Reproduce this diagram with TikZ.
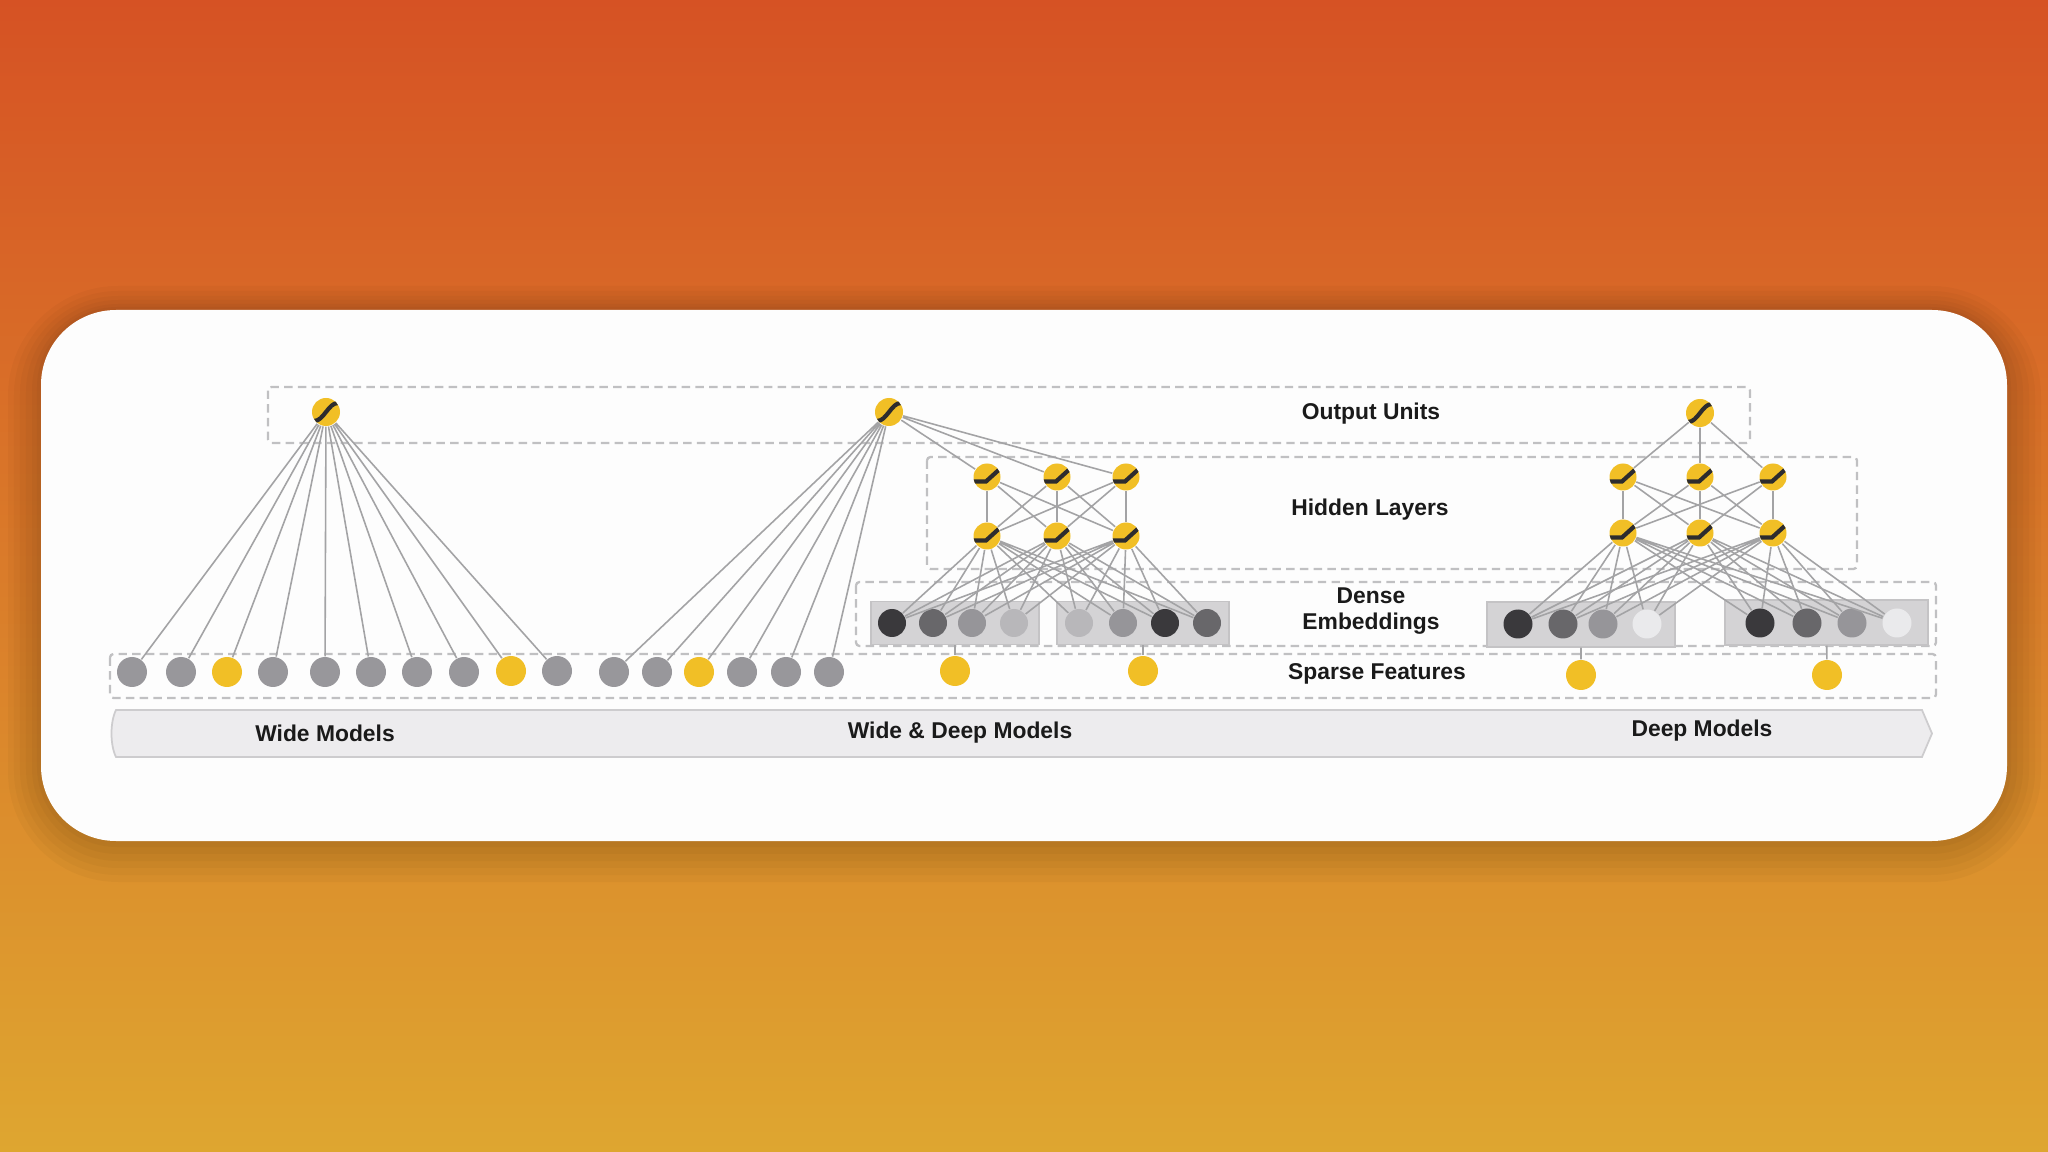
\documentclass[tikz,border=0pt]{standalone}
\usepackage{fontspec}
\setmainfont{Liberation Sans}
\usetikzlibrary{calc}
\definecolor{BgTop}{RGB}{214,82,36}
\definecolor{BgBottom}{RGB}{222,166,48}
\definecolor{CardWhite}{RGB}{253,253,253}
\definecolor{UnitYellow}{RGB}{241,191,38}
\definecolor{GlyphDark}{RGB}{45,44,46}
\definecolor{SparseGray}{RGB}{152,151,155}
\definecolor{EmbDark}{RGB}{58,57,60}
\definecolor{EmbDim}{RGB}{104,103,106}
\definecolor{EmbMid}{RGB}{150,149,153}
\definecolor{EmbLight}{RGB}{184,183,186}
\definecolor{EmbPale}{RGB}{234,234,236}
\definecolor{GroupFill}{RGB}{212,211,213}
\definecolor{GroupLine}{RGB}{196,195,197}
\definecolor{EdgeGray}{RGB}{163,163,165}
\definecolor{DashGray}{RGB}{192,192,194}
\definecolor{BannerFill}{RGB}{237,236,238}
\definecolor{BannerLine}{RGB}{205,204,206}
\definecolor{InkBlack}{RGB}{26,26,26}
\tikzset{
  unit/.style={circle,fill=UnitYellow,inner sep=0pt,minimum size=2.8mm},
  outu/.style={unit,path picture={\begin{scope}[shift={(path picture bounding box.center)}]
    \draw[GlyphDark,line width=1.2pt] (-0.12,-0.09) .. controls (-0.02,-0.09) and (0.02,0.09) .. (0.12,0.09);
    \end{scope}}},
  relu/.style={unit,minimum size=2.7mm,path picture={\begin{scope}[shift={(path picture bounding box.center)}]
    \draw[GlyphDark,line width=1.2pt] (-0.15,-0.045) -- (-0.01,-0.045) -- (0.15,0.10);
    \end{scope}}},
  link/.style={draw=EdgeGray,line width=0.45pt},
  frame/.style={draw=DashGray,line width=0.65pt,dash pattern=on 2.4pt off 1.5pt,rounded corners=1pt},
}
\tikzset{sparse/.style={circle,fill=SparseGray,inner sep=0pt,minimum size=3mm}, catg/.style={circle,fill=UnitYellow,inner sep=0pt,minimum size=3mm},emb/.style={circle,inner sep=0pt,minimum size=2.8mm},group/.style={rectangle,fill=GroupFill,draw=GroupLine,line width=0.4pt,inner sep=0pt,minimum height=4.3mm},layertext/.style={font=\bfseries\fontsize{6.5}{7.4}\selectfont,text=InkBlack,align=center,inner sep=0pt},haze/.style={black,opacity=0.028}}

\begin{document}
\begin{tikzpicture}
\useasboundingbox (0,0) rectangle (20.48,-11.52);
% backdrop and card
\shade[top color=BgTop,bottom color=BgBottom] (0,0) rectangle (20.48,-11.52);
\fill[haze,rounded corners=1.10cm] (0.08,-2.86) rectangle (20.41,-8.82);
\fill[haze,rounded corners=1.04cm] (0.14,-2.91) rectangle (20.35,-8.75);
\fill[haze,rounded corners=0.98cm] (0.20,-2.96) rectangle (20.29,-8.68);
\fill[haze,rounded corners=0.92cm] (0.26,-3.00) rectangle (20.23,-8.61);
\fill[haze,rounded corners=0.86cm] (0.32,-3.04) rectangle (20.17,-8.54);
\fill[haze,rounded corners=0.80cm] (0.37,-3.07) rectangle (20.11,-8.47);
\fill[CardWhite,rounded corners=0.75cm] (0.41,-3.10) rectangle (20.07,-8.41);
% dashed layer frames
\draw[frame] (2.68,-3.87) rectangle (17.50,-4.43);
\draw[frame] (9.27,-4.57) rectangle (18.57,-5.69);
\draw[frame] (8.56,-5.82) rectangle (19.36,-6.46);
\draw[frame] (1.10,-6.54) rectangle (19.36,-6.98);
% model banner
\filldraw[fill=BannerFill,draw=BannerLine,line width=0.5pt] (1.16,-7.10) -- (19.22,-7.10) -- (19.32,-7.335) -- (19.22,-7.57) -- (1.16,-7.57) .. controls (1.10,-7.45) and (1.10,-7.22) .. cycle;
\node[layertext] (lwide) at (3.25,-7.33) {Wide Models};
\node[layertext] (lboth) at (9.60,-7.33) {Wide \& Deep Models};
\node[layertext] (ldeep) at (17.02,-7.31) {Deep Models};
% layer labels
\node[layertext] (lout) at (13.71,-4.14) {Output Units};
\node[layertext] (lhid) at (13.70,-5.10) {Hidden Layers};
\node[layertext] (lemb) at (13.71,-6.11) {Dense\\Embeddings};
\node[layertext] (lspa) at (13.77,-6.74) {Sparse Features};

% wide model
\node[outu] (wout) at (3.26,-4.12) {};
\node[sparse] (ws1) at (1.32,-6.72) {};
\node[sparse] (ws2) at (1.81,-6.72) {};
\node[catg] (ws3) at (2.27,-6.72) {};
\node[sparse] (ws4) at (2.73,-6.72) {};
\node[sparse] (ws5) at (3.25,-6.72) {};
\node[sparse] (ws6) at (3.71,-6.72) {};
\node[sparse] (ws7) at (4.17,-6.72) {};
\node[sparse] (ws8) at (4.64,-6.72) {};
\node[catg] (ws9) at (5.11,-6.71) {};
\node[sparse] (ws10) at (5.57,-6.71) {};
\draw[link] (wout)--(ws1) (wout)--(ws2) (wout)--(ws3) (wout)--(ws4) (wout)--(ws5);
\draw[link] (wout)--(ws6) (wout)--(ws7) (wout)--(ws8) (wout)--(ws9) (wout)--(ws10);

% wide & deep model
\node[outu] (mout) at (8.89,-4.12) {};
\node[sparse] (ms1) at (6.14,-6.72) {};
\node[sparse] (ms2) at (6.57,-6.72) {};
\node[catg] (ms3) at (6.99,-6.72) {};
\node[sparse] (ms4) at (7.42,-6.72) {};
\node[sparse] (ms5) at (7.86,-6.72) {};
\node[sparse] (ms6) at (8.29,-6.72) {};
\node[relu] (ma1) at (9.87,-4.77) {};
\node[relu] (ma2) at (10.57,-4.77) {};
\node[relu] (ma3) at (11.26,-4.77) {};
\node[relu] (mb1) at (9.87,-5.36) {};
\node[relu] (mb2) at (10.57,-5.36) {};
\node[relu] (mb3) at (11.26,-5.36) {};
\node[group,minimum width=16.8mm] (mg1) at (9.55,-6.23) {};
\node[group,minimum width=17.2mm] (mg2) at (11.43,-6.23) {};
\node[emb,fill=EmbDark] (me1) at (8.92,-6.23) {};
\node[emb,fill=EmbDim] (me2) at (9.33,-6.23) {};
\node[emb,fill=EmbMid] (me3) at (9.72,-6.23) {};
\node[emb,fill=EmbLight] (me4) at (10.14,-6.23) {};
\node[emb,fill=EmbLight] (me5) at (10.79,-6.23) {};
\node[emb,fill=EmbMid] (me6) at (11.23,-6.23) {};
\node[emb,fill=EmbDark] (me7) at (11.65,-6.23) {};
\node[emb,fill=EmbDim] (me8) at (12.07,-6.23) {};
\node[catg] (mf1) at (9.55,-6.71) {};
\node[catg] (mf2) at (11.43,-6.71) {};
\draw[link] (mout)--(ms1) (mout)--(ms2) (mout)--(ms3) (mout)--(ms4) (mout)--(ms5) (mout)--(ms6);
\draw[link] (mout)--(ma1) (mout)--(ma2) (mout)--(ma3);
\draw[link] (ma1)--(mb1) (ma1)--(mb2) (ma1)--(mb3) (ma2)--(mb1) (ma2)--(mb2) (ma2)--(mb3) (ma3)--(mb1) (ma3)--(mb2) (ma3)--(mb3);
\draw[link] (mb1)--(me1) (mb1)--(me2) (mb1)--(me3) (mb1)--(me4) (mb1)--(me5) (mb1)--(me6) (mb1)--(me7) (mb1)--(me8);
\draw[link] (mb2)--(me1) (mb2)--(me2) (mb2)--(me3) (mb2)--(me4) (mb2)--(me5) (mb2)--(me6) (mb2)--(me7) (mb2)--(me8);
\draw[link] (mb3)--(me1) (mb3)--(me2) (mb3)--(me3) (mb3)--(me4) (mb3)--(me5) (mb3)--(me6) (mb3)--(me7) (mb3)--(me8);
\draw[link] (mf1)--(mg1) (mf2)--(mg2);

% deep model
\node[outu] (dout) at (17.00,-4.13) {};
\node[relu] (da1) at (16.23,-4.77) {};
\node[relu] (da2) at (17.00,-4.77) {};
\node[relu] (da3) at (17.73,-4.77) {};
\node[relu] (db1) at (16.23,-5.33) {};
\node[relu] (db2) at (17.00,-5.33) {};
\node[relu] (db3) at (17.73,-5.33) {};
\node[group,minimum width=18.8mm,minimum height=4.5mm] (dg1) at (15.81,-6.245) {};
\node[group,minimum width=20.3mm,minimum height=4.5mm] (dg2) at (18.265,-6.225) {};
\node[emb,fill=EmbDark,minimum size=2.9mm] (de1) at (15.18,-6.24) {};
\node[emb,fill=EmbDim,minimum size=2.9mm] (de2) at (15.63,-6.24) {};
\node[emb,fill=EmbMid,minimum size=2.9mm] (de3) at (16.03,-6.24) {};
\node[emb,fill=EmbPale,minimum size=2.9mm] (de4) at (16.47,-6.24) {};
\node[emb,fill=EmbDark,minimum size=2.9mm] (de5) at (17.60,-6.23) {};
\node[emb,fill=EmbDim,minimum size=2.9mm] (de6) at (18.07,-6.23) {};
\node[emb,fill=EmbMid,minimum size=2.9mm] (de7) at (18.52,-6.23) {};
\node[emb,fill=EmbPale,minimum size=2.9mm] (de8) at (18.97,-6.23) {};
\node[catg] (df1) at (15.81,-6.75) {};
\node[catg] (df2) at (18.27,-6.75) {};
\draw[link] (dout)--(da1) (dout)--(da2) (dout)--(da3);
\draw[link] (da1)--(db1) (da1)--(db2) (da1)--(db3) (da2)--(db1) (da2)--(db2) (da2)--(db3) (da3)--(db1) (da3)--(db2) (da3)--(db3);
\draw[link] (db1)--(de1) (db1)--(de2) (db1)--(de3) (db1)--(de4) (db1)--(de5) (db1)--(de6) (db1)--(de7) (db1)--(de8);
\draw[link] (db2)--(de1) (db2)--(de2) (db2)--(de3) (db2)--(de4) (db2)--(de5) (db2)--(de6) (db2)--(de7) (db2)--(de8);
\draw[link] (db3)--(de1) (db3)--(de2) (db3)--(de3) (db3)--(de4) (db3)--(de5) (db3)--(de6) (db3)--(de7) (db3)--(de8);
\draw[link] (df1)--(dg1) (df2)--(dg2);
\end{tikzpicture}
\end{document}
